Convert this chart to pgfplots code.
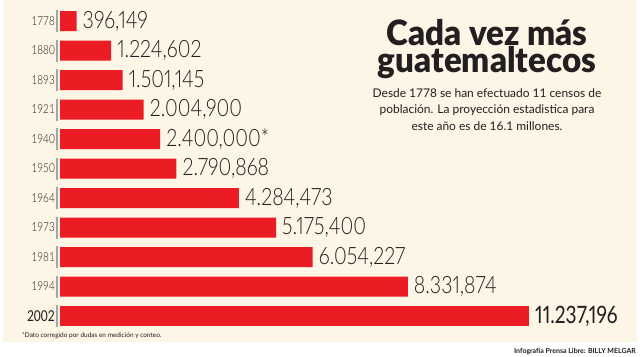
\documentclass[border=0pt]{standalone}
\usepackage{pgfplots}
\pgfplotsset{compat=1.18}
\usepackage{fontspec}
\setmainfont{Lato}
\newfontfamily\titlefont{Lato Black}[FakeStretch=0.95]
\newfontfamily\lightfont{Lato Light}[FakeStretch=0.82, Numbers=Proportional]
\newfontfamily\regfont{Lato}[FakeStretch=0.8, Numbers=Proportional]
\newfontfamily\yearfont{Lato Light}[FakeStretch=0.8]
\definecolor{cream}{HTML}{FDF5E6}
\definecolor{barred}{HTML}{EC1C24}
\definecolor{ink}{HTML}{231F20}
\begin{document}
\begin{tikzpicture}[x=1bp,y=1bp]
\path[use as bounding box, fill=white] (0,0) rectangle (640,356);
\fill[cream] (3,14) rectangle (637,356);
\begin{axis}[
  at={(60bp,25.25bp)}, anchor=south west,
  scale only axis, width=469bp, height=324.5bp,
  xmin=0, xmax=11.237196, ymin=-0.5, ymax=10.5,
  y dir=reverse, clip=false,
  axis line style={draw=none}, major tick length=0pt,
  xtick=\empty,
  ytick={0,...,10},
  yticklabels={1778,1880,1893,1921,1940,1950,1964,1973,1981,1994,{\fontsize{15}{15}\selectfont\fontspec{Lato}[FakeStretch=0.8]2002}},
  yticklabel style={font=\yearfont\fontsize{12.5}{12.5}\selectfont, text=ink, anchor=east, xshift=-5bp, inner sep=0pt},
]
\addplot[xbar, bar width=20bp, fill=barred, draw=none,
  point meta=explicit symbolic,
  nodes near coords,
  every node near coord/.append style={anchor=west, inner sep=0pt, xshift=6bp, text=ink, font=\lightfont\fontsize{24}{24}\selectfont}]
  table[x=v, y=i, meta=lab] {
v i lab
0.396149 0 396,149
1.224602 1 1.224,602
1.501145 2 1.501,145
2.004900 3 2.004,900
2.400000 4 2.400,000*
2.790868 5 2.790,868
4.284473 6 4.284,473
5.175400 7 5.175,400
6.054227 8 6.054,227
8.331874 9 8.331,874
};
\addplot[xbar, bar width=20bp, fill=barred, draw=none,
  point meta=explicit symbolic,
  nodes near coords,
  every node near coord/.append style={anchor=west, inner sep=0pt, xshift=6bp, text=ink, font=\regfont\fontsize{24}{24}\selectfont}]
  table[x=v, y=i, meta=lab] {
v i lab
11.237196 10 11.237,196
};
\addplot[only marks, mark=|, mark size=11bp, mark options={draw=gray!70, line width=1.6bp}]
  table[x=v, y=i] {
v i
-0.072 0
-0.072 1
-0.072 2
-0.072 3
-0.072 4
-0.072 5
-0.072 6
-0.072 7
-0.072 8
-0.072 9
-0.072 10
};
\end{axis}
\node[text=ink, font=\titlefont\fontsize{35}{35}\selectfont, anchor=base, inner sep=0pt, text depth=0pt] at (487,311) {Cada vez más};
\node[text=ink, font=\titlefont\fontsize{35}{35}\selectfont, anchor=base, inner sep=0pt, text height=18bp] at (487,284) {guatemaltecos};
\node[text=ink, font=\fontsize{12}{17}\selectfont, align=center, anchor=north, inner sep=0pt] at (487,268)
  {Desde 1778 se han efectuado 11 censos de\\población. La proyección estadistica para\\este año es de 16.1 millones.};
\node[text=ink, font=\fontsize{6.5}{6.5}\selectfont, anchor=base west, inner sep=0pt] at (22,19) {*Dato corregido por dudas en medición y conteo.};
\node[text=ink, font=\bfseries\fontsize{7}{7}\selectfont, anchor=base east, inner sep=0pt] at (636,3) {Infografía Prensa Libre: BILLY MELGAR};
\end{tikzpicture}
\end{document}
